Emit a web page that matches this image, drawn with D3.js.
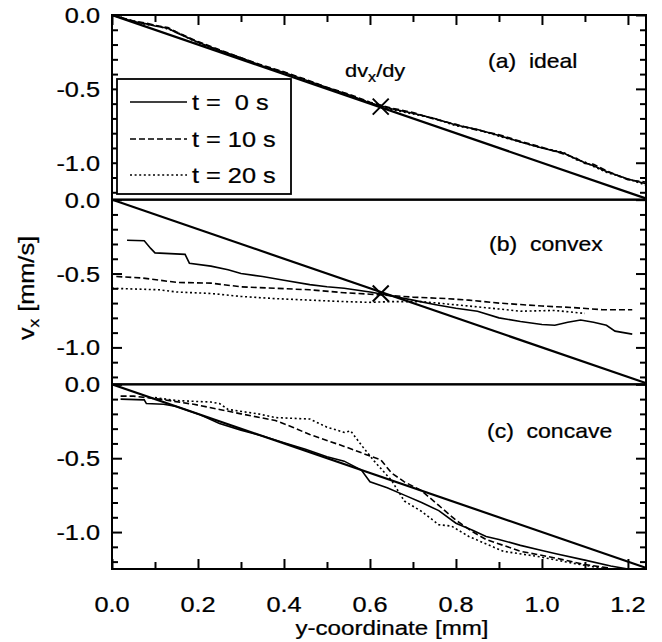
<!DOCTYPE html>
<html>
<head>
<meta charset="utf-8">
<script src="https://cdn.jsdelivr.net/npm/d3@7"></script>
<style>
  body { margin: 0; background: #fff; }
  text { font-family: "Liberation Sans", Arial, Helvetica, sans-serif; fill: #000; stroke: #000; stroke-width: 0.25px; }
</style>
</head>
<body>
<svg id="svg" width="662" height="642"></svg>
<script>

// tick values
var xMajor = [0, 0.2, 0.4, 0.6, 0.8, 1.0, 1.2];
var xMinor = [0.1, 0.3, 0.5, 0.7, 0.9, 1.1];
var yMajor = [0, -0.5, -1.0];
var yMinor = [-0.1, -0.2, -0.3, -0.4, -0.6, -0.7, -0.8, -0.9, -1.1, -1.2];

var panelNames = ["(a)  ideal", "(b)  convex", "(c)  concave"];
var legendNames = ["t =  0 s", "t = 10 s", "t = 20 s"];

// ideal shear profile (straight line)
var idealLine = [[0, 0], [1.25, -1.25]];

// (a) ideal
var aT0 = [[0,0],[0.05,-0.045],[0.08,-0.06],[0.1,-0.075],[0.13,-0.09],[0.15,-0.12],[0.2,-0.185],[0.25,-0.24],[0.3,-0.29],[0.35,-0.345],[0.4,-0.39],[0.45,-0.44],[0.5,-0.49],[0.55,-0.54],[0.6,-0.595],[0.65,-0.635],[0.7,-0.665],[0.75,-0.7],[0.8,-0.745],[0.85,-0.775],[0.9,-0.815],[0.95,-0.86],[1.0,-0.9],[1.05,-0.935],[1.08,-0.975],[1.1,-1.0],[1.12,-1.02],[1.15,-1.06],[1.2,-1.11],[1.24,-1.14]];
var aT10 = [[0,0],[0.05,-0.04],[0.08,-0.055],[0.1,-0.07],[0.13,-0.085],[0.15,-0.115],[0.2,-0.18],[0.25,-0.235],[0.3,-0.29],[0.35,-0.34],[0.4,-0.385],[0.45,-0.435],[0.5,-0.49],[0.55,-0.535],[0.6,-0.59],[0.65,-0.63],[0.7,-0.66],[0.75,-0.705],[0.8,-0.74],[0.85,-0.78],[0.9,-0.81],[0.95,-0.855],[1.0,-0.895],[1.05,-0.94],[1.08,-0.97],[1.1,-1.005],[1.12,-1.01],[1.15,-1.055],[1.2,-1.115],[1.24,-1.13]];
var aT20 = [[0,0],[0.05,-0.042],[0.08,-0.065],[0.1,-0.07],[0.13,-0.095],[0.15,-0.115],[0.2,-0.19],[0.25,-0.24],[0.3,-0.295],[0.35,-0.345],[0.4,-0.39],[0.45,-0.445],[0.5,-0.495],[0.55,-0.54],[0.6,-0.595],[0.65,-0.64],[0.7,-0.67],[0.75,-0.7],[0.8,-0.75],[0.85,-0.775],[0.9,-0.82],[0.95,-0.86],[1.0,-0.9],[1.05,-0.93],[1.08,-0.98],[1.1,-0.995],[1.12,-1.025],[1.15,-1.065],[1.2,-1.11],[1.24,-1.15]];

// (b) convex
var bT0 = [[0.035,-0.275],[0.075,-0.278],[0.09,-0.33],[0.1,-0.36],[0.17,-0.37],[0.18,-0.43],[0.23,-0.45],[0.27,-0.475],[0.3,-0.5],[0.35,-0.52],[0.4,-0.545],[0.46,-0.575],[0.5,-0.59],[0.54,-0.6],[0.6,-0.625],[0.63,-0.64],[0.7,-0.68],[0.75,-0.71],[0.8,-0.735],[0.85,-0.755],[0.9,-0.8],[0.95,-0.825],[1.0,-0.845],[1.03,-0.85],[1.06,-0.83],[1.09,-0.815],[1.12,-0.83],[1.15,-0.85],[1.17,-0.89],[1.21,-0.91]];
var bT10 = [[0.01,-0.52],[0.07,-0.53],[0.15,-0.56],[0.23,-0.565],[0.3,-0.59],[0.38,-0.6],[0.46,-0.61],[0.54,-0.63],[0.6,-0.64],[0.63,-0.645],[0.7,-0.66],[0.78,-0.67],[0.83,-0.68],[0.9,-0.7],[0.95,-0.71],[1.0,-0.72],[1.07,-0.73],[1.14,-0.745],[1.21,-0.745]];
var bT20 = [[0.0,-0.6],[0.11,-0.61],[0.15,-0.625],[0.23,-0.635],[0.3,-0.655],[0.38,-0.67],[0.46,-0.68],[0.54,-0.69],[0.6,-0.695],[0.65,-0.69],[0.72,-0.69],[0.83,-0.72],[0.9,-0.74],[0.95,-0.755],[1.03,-0.75],[1.1,-0.77]];

// (c) concave
var cT0 = [[0.02,-0.1],[0.075,-0.105],[0.08,-0.13],[0.12,-0.135],[0.15,-0.15],[0.2,-0.2],[0.25,-0.265],[0.3,-0.31],[0.35,-0.35],[0.4,-0.395],[0.45,-0.44],[0.5,-0.49],[0.54,-0.52],[0.58,-0.58],[0.6,-0.66],[0.64,-0.7],[0.68,-0.75],[0.72,-0.8],[0.76,-0.855],[0.8,-0.94],[0.84,-0.99],[0.87,-1.03],[0.9,-1.05],[0.95,-1.09],[1.0,-1.125],[1.03,-1.145],[1.1,-1.19],[1.16,-1.23],[1.2,-1.25]];
var cT10 = [[0.02,-0.08],[0.05,-0.08],[0.11,-0.1],[0.19,-0.135],[0.25,-0.17],[0.3,-0.2],[0.38,-0.245],[0.42,-0.29],[0.46,-0.34],[0.54,-0.42],[0.6,-0.485],[0.625,-0.51],[0.65,-0.6],[0.68,-0.66],[0.72,-0.72],[0.76,-0.82],[0.8,-0.92],[0.84,-1.0],[0.87,-1.05],[0.95,-1.13],[1.03,-1.175],[1.1,-1.22],[1.16,-1.245]];
var cT20 = [[0.1,-0.09],[0.15,-0.11],[0.23,-0.12],[0.25,-0.13],[0.27,-0.17],[0.34,-0.2],[0.38,-0.225],[0.46,-0.235],[0.5,-0.29],[0.54,-0.325],[0.555,-0.315],[0.585,-0.43],[0.61,-0.52],[0.65,-0.65],[0.68,-0.79],[0.72,-0.86],[0.76,-0.95],[0.79,-0.96],[0.83,-1.03],[0.91,-1.13],[0.99,-1.165],[1.07,-1.21],[1.14,-1.245]];

// dv_x/dy markers
var markA = [0.625, -0.62];
var markB = [0.625, -0.635];

var panels = [
  {name: panelNames[0], series: [aT0, aT10, aT20], mark: markA, lbl: [488, 68]},
  {name: panelNames[1], series: [bT0, bT10, bT20], mark: markB, lbl: [489, 251]},
  {name: panelNames[2], series: [cT0, cT10, cT20], mark: null, lbl: [487, 438]}
];

var dashes = [null, "6,3", "2,2.6"];
var SX = 1.15;   // text looks wider than Arial in the original
var FS = 22;

var svg = d3.select("#svg");
var left = 112, right = 646, top0 = 15, panelH = (569 - 15) / 3;

var xScale = d3.scaleLinear().domain([0, 1.242]).range([left, right]);

function txt(g, str, x, y, anchor, size, rot) {
  return g.append("text")
    .attr("transform", "translate(" + x + "," + y + ") rotate(" + (rot || 0) + ") scale(" + SX + ",1)")
    .attr("text-anchor", anchor)
    .style("font-size", size + "px")
    .style("white-space", "pre")
    .text(str);
}

svg.append("defs").selectAll("clipPath")
  .data(panels).enter()
  .append("clipPath").attr("id", function (d, i) { return "clip" + i; })
  .append("rect")
    .attr("x", left).attr("y", function (d, i) { return top0 + i * panelH; })
    .attr("width", right - left).attr("height", panelH);

panels.forEach(function (p, i) {
  var top = top0 + i * panelH;
  var yScale = d3.scaleLinear().domain([-1.25, 0]).range([top + panelH, top]);
  var g = svg.append("g");

  // y ticks, pointing inward on both sides
  g.append("g").attr("transform", "translate(" + left + ",0)")
    .call(d3.axisLeft(yScale).tickValues(yMajor).tickSize(-10).tickFormat(""));
  g.append("g").attr("transform", "translate(" + left + ",0)")
    .call(d3.axisLeft(yScale).tickValues(yMinor).tickSize(-6).tickFormat(""));
  g.append("g").attr("transform", "translate(" + right + ",0)")
    .call(d3.axisRight(yScale).tickValues(yMajor).tickSize(-10).tickFormat(""));
  g.append("g").attr("transform", "translate(" + right + ",0)")
    .call(d3.axisRight(yScale).tickValues(yMinor).tickSize(-6).tickFormat(""));

  if (i === 0) {
    g.append("g").attr("transform", "translate(0," + top + ")")
      .call(d3.axisTop(xScale).tickValues(xMajor).tickSize(-10).tickFormat(""));
    g.append("g").attr("transform", "translate(0," + top + ")")
      .call(d3.axisTop(xScale).tickValues(xMinor).tickSize(-7).tickFormat(""));
  }
  if (i === 2) {
    g.append("g").attr("transform", "translate(0," + (top + panelH) + ")")
      .call(d3.axisBottom(xScale).tickValues(xMajor).tickSize(-10).tickFormat(""));
    g.append("g").attr("transform", "translate(0," + (top + panelH) + ")")
      .call(d3.axisBottom(xScale).tickValues(xMinor).tickSize(-7).tickFormat(""));
    xMajor.forEach(function (v) {
      txt(svg, v.toFixed(1), xScale(v), 612, "middle", FS);
    });
  }
  g.selectAll(".domain").remove();
  g.selectAll(".tick line").attr("stroke", "#000").attr("stroke-width", 2);

  yMajor.forEach(function (v) {
    txt(svg, v.toFixed(1), 100, yScale(v) + 8, "end", FS);
  });

  var line = d3.line().x(function (d) { return xScale(d[0]); }).y(function (d) { return yScale(d[1]); });
  var plot = g.append("g").attr("clip-path", "url(#clip" + i + ")");

  plot.append("path").datum(idealLine)
    .attr("d", line).attr("fill", "none").attr("stroke", "#000").attr("stroke-width", 2.2);

  p.series.forEach(function (s, k) {
    plot.append("path").datum(s)
      .attr("d", line).attr("fill", "none").attr("stroke", "#000")
      .attr("stroke-width", 1.6)
      .attr("stroke-dasharray", dashes[k]);
  });

  if (p.mark) {
    var mx = xScale(p.mark[0]), my = yScale(p.mark[1]);
    g.append("path")
      .attr("d", "M" + (mx - 8) + "," + (my - 8) + "L" + (mx + 8) + "," + (my + 8) +
                 "M" + (mx - 8) + "," + (my + 8) + "L" + (mx + 8) + "," + (my - 8))
      .attr("stroke", "#000").attr("stroke-width", 2);
  }

  g.append("rect")
    .attr("x", left).attr("y", top).attr("width", right - left).attr("height", panelH)
    .attr("fill", "none").attr("stroke", "#000").attr("stroke-width", 2);

  txt(svg, p.name, p.lbl[0], p.lbl[1], "start", 20);
});

// dv_x/dy annotation
var ann = svg.append("text")
  .attr("transform", "translate(345,77) scale(" + SX + ",1)")
  .style("font-size", "19px");
ann.append("tspan").text("dv");
ann.append("tspan").attr("dy", 5).style("font-size", "14px").text("x");
ann.append("tspan").attr("dy", -5).text("/dy");

// legend
var leg = svg.append("g");
leg.append("rect").attr("x", 117).attr("y", 79).attr("width", 174).attr("height", 115)
  .attr("fill", "#fff").attr("stroke", "#000").attr("stroke-width", 1.8);
var legY = [102, 139, 175];
legendNames.forEach(function (n, k) {
  leg.append("line").attr("x1", 130).attr("x2", 187).attr("y1", legY[k]).attr("y2", legY[k])
    .attr("stroke", "#000").attr("stroke-width", 1.5).attr("stroke-dasharray", dashes[k]);
  txt(leg, n, 192, legY[k] + 8, "start", FS);
});

// axis titles
var yl = svg.append("text")
  .attr("transform", "translate(34,288) rotate(-90) scale(" + SX + ",1)")
  .attr("text-anchor", "middle")
  .style("font-size", FS + "px");
yl.append("tspan").text("v");
yl.append("tspan").attr("dy", 5).style("font-size", "15px").text("x");
yl.append("tspan").attr("dy", -5).text(" [mm/s]");

txt(svg, "y-coordinate [mm]", 392, 635, "middle", 21);

</script>
</body>
</html>
